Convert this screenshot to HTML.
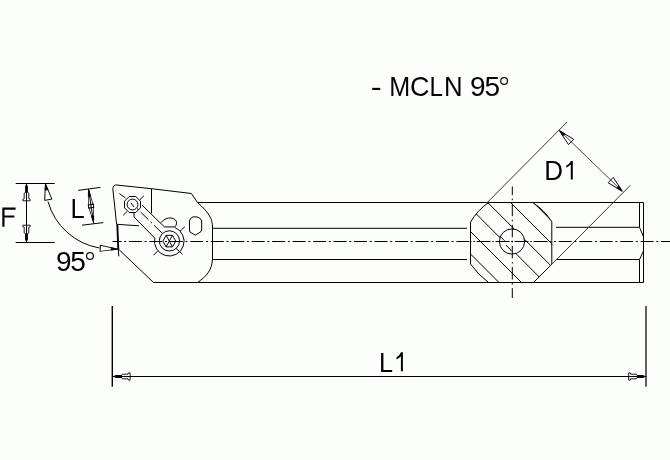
<!DOCTYPE html>
<html><head><meta charset="utf-8">
<style>
html,body{margin:0;padding:0;background:#fcfefc;}
svg{display:block;}
text{font-family:"Liberation Sans",sans-serif;fill:#000;}
.tx{opacity:0.999;will-change:transform;}
</style></head>
<body>
<svg width="670" height="460" viewBox="0 0 670 460">
<defs>
  <g id="arr">
    <path d="M0,0 L1.4,3 L1.4,9.2 L-1.4,9.2 L-1.4,3 Z" fill="#000" stroke="none"/>
    <path d="M-1.3,9 L-2.3,9.6 L-2.3,15.2 L-3.6,15.7 L-3.6,17.3 L3.6,17.3 L3.6,15.7 L2.3,15.2 L2.3,9.6 L1.3,9" fill="none" stroke="#000" stroke-width="0.9"/>
  </g>
  <g id="arr2">
    <path d="M0,0 L1.6,6 L-1.6,6 Z" fill="#000" stroke="#000" stroke-width="0.6"/>
    <path d="M0,0 L3.7,16 L-3.7,16 Z" fill="none" stroke="#000" stroke-width="0.9"/>
  </g>
  <clipPath id="sec">
    <path d="M488.6,202.5 L532.6,202.5 A60,60 0 0 1 551.8,221.8 L551.8,264.2 L533.5,282.5 L488.6,282.5 A80,80 0 0 1 470.5,264 L470.5,222.2 A60,60 0 0 1 488.6,202.5 Z"/>
  </clipPath>
</defs>
<rect x="0" y="0" width="670" height="460" fill="#fcfefc"/>

<g fill="none" stroke="#000" stroke-width="1">
  <!-- ===== shank ===== -->
  <line x1="197.4" y1="202.5" x2="643.5" y2="202.5"/>
  <line x1="197.6" y1="282.5" x2="643.5" y2="282.5"/>
  <line x1="643.5" y1="202.5" x2="643.5" y2="282.5"/>
  <line x1="212.5" y1="228.3" x2="467" y2="228.3"/>
  <line x1="212.5" y1="259.5" x2="467" y2="259.5"/>
  <line x1="556" y1="227.3" x2="639.5" y2="227.3"/>
  <line x1="556" y1="259.5" x2="639.5" y2="259.5"/>
  <line x1="212.5" y1="226.5" x2="212.5" y2="260"/>
  <polyline points="639.5,202.5 639.5,227.3 643.5,236.8"/>
  <polyline points="643.5,251 639.5,259.5 639.5,282.5"/>

  <!-- ===== head outline ===== -->
  <polyline points="151.5,188.7 191.4,193.5 197.4,202.4"/>
  <path d="M197.4,202.4 C203,207.5 208,212 211,218.7 C212,221.5 212.4,224 212.5,227"/>
  <path d="M212.4,259.8 C212.2,264 211,268.5 208.4,272.4 C206,276 202,279.5 197.6,282.4"/>
  <polyline points="197.6,282.5 153.5,282.5 119.2,249.8"/>
  <!-- insert -->
  <path d="M115.5,184.9 L151.5,188.7 L151.5,213.3"/>
  <path d="M115.5,184.9 Q113,185.3 112.8,188.5 L116.6,224.3 L139,225.8"/>
  <line x1="117.3" y1="224.5" x2="118.3" y2="249.5" stroke-width="1.9"/>
  <line x1="118.3" y1="249" x2="118.8" y2="256.3"/>

  <!-- small screw -->
  <polygon points="129.2,196.5 135.8,196.5 140.5,201.2 140.5,207.8 135.8,212.5 129.2,212.5 124.5,207.8 124.5,201.2"/>
  <circle cx="132.5" cy="204.5" r="5.4"/>
  <line x1="131" y1="203" x2="134" y2="207"/>
  <line x1="119.4" y1="193.6" x2="125.4" y2="197.9"/>
  <line x1="143.9" y1="195.8" x2="139.5" y2="200"/>
  <line x1="123.2" y1="215.3" x2="127" y2="211.5"/>

  <!-- clamp arm -->
  <polyline points="142.2,205.3 164.4,226.9 175.2,226.9"/>
  <path d="M161,222.7 C162.5,220.5 165,218.8 168.7,218 C172,217.6 175,218.8 176.2,221 C176.9,223 176.4,225 175.2,226.6"/>
  <polyline points="134,212.6 134,217 154.8,238.1"/>
  <line x1="137" y1="208.5" x2="163" y2="234" stroke-dasharray="2,3,11,3"/>

  <!-- big screw -->
  <circle cx="169.4" cy="240.9" r="10.1"/>
  <path d="M154.8,238.1 A14.8,14.8 0 1 0 174.8,227.5"/>
  <polygon points="162.9,241.1 166.1,235.3 172.5,235.3 175.7,241.1 172.5,246.9 166.1,246.9"/>
  <line x1="166.1" y1="235.3" x2="172.5" y2="246.9"/>
  <line x1="172.5" y1="235.3" x2="166.1" y2="246.9"/>
  <line x1="180" y1="231.2" x2="184.9" y2="226.7"/>
  <line x1="153.5" y1="255.2" x2="157.8" y2="250.9"/>
  <line x1="175.9" y1="248.3" x2="182.5" y2="254.2"/>

  <!-- hole -->
  <path d="M193,216.9 L197,216.9 L200.5,218.6 L201.7,221 L201.7,230 L200.6,232 L195.2,235.2 L190,232 L189.5,230 L189.5,221 L190.3,218.6 Z"/>

  <!-- ===== centre line ===== -->
  <line x1="112.5" y1="241.5" x2="670" y2="241.5" stroke-dasharray="13,2.7,2,2.77" stroke-dashoffset="4.1"/>
</g>

<!-- ===== D1 section ===== -->
<path d="M488.6,202.5 L532.6,202.5 A60,60 0 0 1 551.8,221.8 L551.8,264.2 L533.5,282.5 L488.6,282.5 A80,80 0 0 1 470.5,264 L470.5,222.2 A60,60 0 0 1 488.6,202.5 Z" fill="#fcfefc" stroke="none"/>
<g clip-path="url(#sec)" stroke="#000" stroke-width="1" fill="none">
  <line x1="216.5" y1="0" x2="516.5" y2="300"/>
  <line x1="239" y1="0" x2="539" y2="300"/>
  <line x1="262.3" y1="0" x2="562.3" y2="300"/>
  <line x1="285.2" y1="0" x2="585.2" y2="300"/>
  <line x1="308" y1="0" x2="608" y2="300"/>
  <line x1="330.8" y1="0" x2="630.8" y2="300"/>
</g>
<g fill="none" stroke="#000" stroke-width="1">
  <path d="M488.6,202.5 L532.6,202.5 A60,60 0 0 1 551.8,221.8 L551.8,264.2 L533.5,282.5 L488.6,282.5 A80,80 0 0 1 470.5,264 L470.5,222.2 A60,60 0 0 1 488.6,202.5 Z"/>
  <line x1="470" y1="202.5" x2="552" y2="202.5"/>
  <line x1="470" y1="282.5" x2="552" y2="282.5"/>
  <circle cx="512" cy="241.5" r="12.6" fill="#fcfefc"/>
  <line x1="470" y1="241.5" x2="552" y2="241.5" stroke-dasharray="14,1.7,1.6,1.7" stroke-dashoffset="12.5"/>
  <line x1="499.5" y1="235.7" x2="504.6" y2="240.8"/>
  <line x1="506.1" y1="245.1" x2="512" y2="251.4"/>
  <line x1="512.3" y1="186.4" x2="512.3" y2="298" stroke-dasharray="12.5,3.5,1.6,3.5" stroke-dashoffset="3.8"/>

  <!-- D1 dim -->
  <line x1="487.6" y1="202.2" x2="567" y2="122.1" stroke="#333"/>
  <line x1="551.9" y1="264.2" x2="630.4" y2="185.3" stroke="#333"/>
  <line x1="559.6" y1="130.5" x2="622.2" y2="191.2" stroke="#444"/>

  <!-- F dim -->
  <line x1="15.7" y1="183.5" x2="54.8" y2="183.5"/>
  <line x1="15.7" y1="242.5" x2="54.8" y2="242.5"/>
  <line x1="26.5" y1="183.5" x2="26.5" y2="242.5"/>
  <!-- angle arc -->
  <path d="M48,201.6 A64.9,64.9 0 0 0 99.5,248"/>

  <!-- L dim -->
  <line x1="78.2" y1="190.4" x2="100.4" y2="187.4"/>
  <line x1="82" y1="225.2" x2="103.3" y2="222.6"/>
  <line x1="88.6" y1="189.3" x2="93.7" y2="223.5"/>

  <!-- L1 dim -->
  <line x1="112.3" y1="306" x2="112.3" y2="386.8" stroke-width="1.4"/>
  <line x1="646" y1="306" x2="646" y2="386.8" stroke="#606060" stroke-width="2"/>
  <line x1="112.5" y1="376.5" x2="646.5" y2="376.5"/>
</g>

<!-- arrows -->
<use href="#arr" transform="translate(26.5,183.5)"/>
<use href="#arr" transform="translate(26.5,242.5) rotate(180)"/>
<use href="#arr2" transform="translate(45.5,184) rotate(-10)"/>
<use href="#arr2" transform="translate(117.8,249.2) rotate(93) scale(0.8,1.1)"/>
<use href="#arr2" transform="translate(88.5,189.5) rotate(-8.5) scale(0.75,1.15)"/>
<use href="#arr2" transform="translate(93.6,222.8) rotate(171.5) scale(0.75,1.15)"/>
<use href="#arr2" transform="translate(559.6,130.8) rotate(-45.9)"/>
<use href="#arr2" transform="translate(622.2,191.2) rotate(134.1)"/>
<use href="#arr" transform="translate(112.8,376.5) rotate(-90)"/>
<use href="#arr" transform="translate(646,376.5) rotate(90)"/>

<g class="tx">
<!-- texts -->
<text transform="translate(370.7,96.1) scale(1.18,1)" font-size="28">-</text>
<text transform="translate(389.2,96.1) scale(0.9,1)" font-size="28">M</text>
<text transform="translate(410,96.1) scale(0.96,1)" font-size="28">C</text>
<text transform="translate(429.6,96.1) scale(0.86,1)" font-size="28">L</text>
<text transform="translate(443.9,96.1) scale(0.92,1)" font-size="28">N</text>
<text y="96.1" font-size="28" x="470.1 484.6">95</text>
<circle cx="504.1" cy="81" r="3.4" fill="none" stroke="#111" stroke-width="1.25"/>
<text transform="translate(544.3,180) scale(0.93,1)" font-size="28">D</text>
<path d="M570.8,161 L572.8,161 L572.8,179.6 L570.8,179.6 L570.8,164.6 C569.5,166 568,167 566.3,167.8 L566.3,165.6 C568.3,164.5 570,163 570.8,161 Z" fill="#000"/>
<text transform="translate(379,371.6) scale(0.9,1)" font-size="28">L</text>
<path d="M400.9,352.2 L402.9,352.2 L402.9,371.2 L400.9,371.2 L400.9,356.3 C399.6,357.7 398.2,358.6 396.5,359.4 L396.5,357.2 C398.5,356.1 400.1,354.4 400.9,352.2 Z" fill="#000"/>
<path d="M2.3,207.6 H15.6 V209.8 H4.5 V215.5 H14.4 V217.6 H4.5 V226.7 H2.3 Z" fill="#000"/>
<text transform="translate(70.5,217.8) scale(0.91,1)" font-size="28">L</text>
<text y="271" font-size="28" x="55.9 70.2">95</text>
<circle cx="90" cy="255.9" r="3.4" fill="none" stroke="#111" stroke-width="1.25"/>
</g>
</svg>
</body></html>
